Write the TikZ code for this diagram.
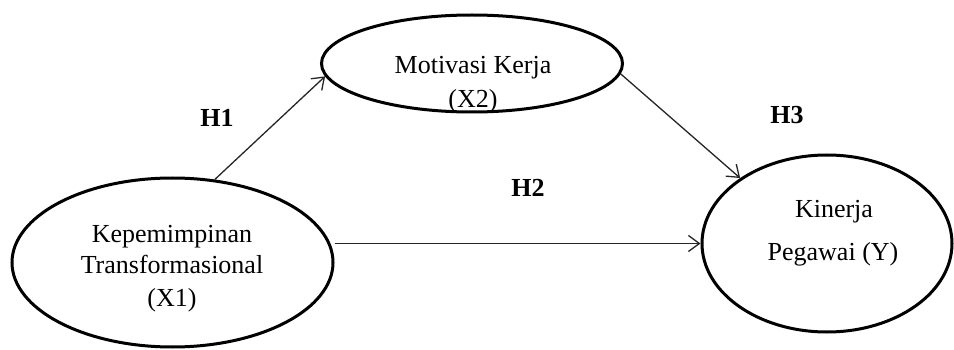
\documentclass[tikz,border=0pt]{standalone}
\usepackage{fontspec}
\setmainfont{Liberation Serif}
\usetikzlibrary{shapes.geometric,arrows.meta}
\tikzset{
  ell/.style={draw=black, line width=3pt, ellipse, inner sep=0pt, fill=none},
  lbl/.style={anchor=base, inner sep=0pt, font=\fontsize{26}{30}\selectfont},
  hyp/.style={inner sep=0pt, font=\fontsize{26}{30}\selectfont\bfseries},
  arr/.style={draw=black!85, line width=1.3pt, -{Straight Barb[length=11pt,width=16pt,line width=1.3pt]}}
}
\begin{document}
\begin{tikzpicture}[x=1pt,y=-1pt]
\useasboundingbox[fill=white] (0,0) rectangle (954,350);
% ellipses
\node[ell, minimum width=321pt, minimum height=169pt] (x1) at (172.5,262.5) {};
\node[ell, minimum width=301pt, minimum height=97pt] (x2) at (472,63.5) {};
\node[ell, minimum width=250pt, minimum height=177pt] (y) at (827,243.5) {};
% texts
\node[lbl] (t1a) at (172,243) {Kepemimpinan};
\node[lbl] (t1b) at (172,273.5) {Transformasional};
\node[lbl] (t1c) at (172,306.5) {(X1)};
\node[lbl] (t2a) at (473,73.5) {Motivasi Kerja};
\node[lbl] (t2b) at (473,107.5) {(X2)};
\node[lbl] (t3a) at (834,218) {Kinerja};
\node[lbl] (t3b) at (833,260) {Pegawai (Y)};
% hypothesis labels
\node[hyp] (h1) at (217,118) {H1};
\node[hyp] (h2) at (528,188) {H2};
\node[hyp] (h3) at (787,115) {H3};
% arrows
\draw[arr] (x1.63) -- (x2.185.5);
\draw[arr] (x2.356) -- (y.143.5);
\draw[arr] (y.west -| x1.east) -- (y.west);
\end{tikzpicture}
\end{document}
